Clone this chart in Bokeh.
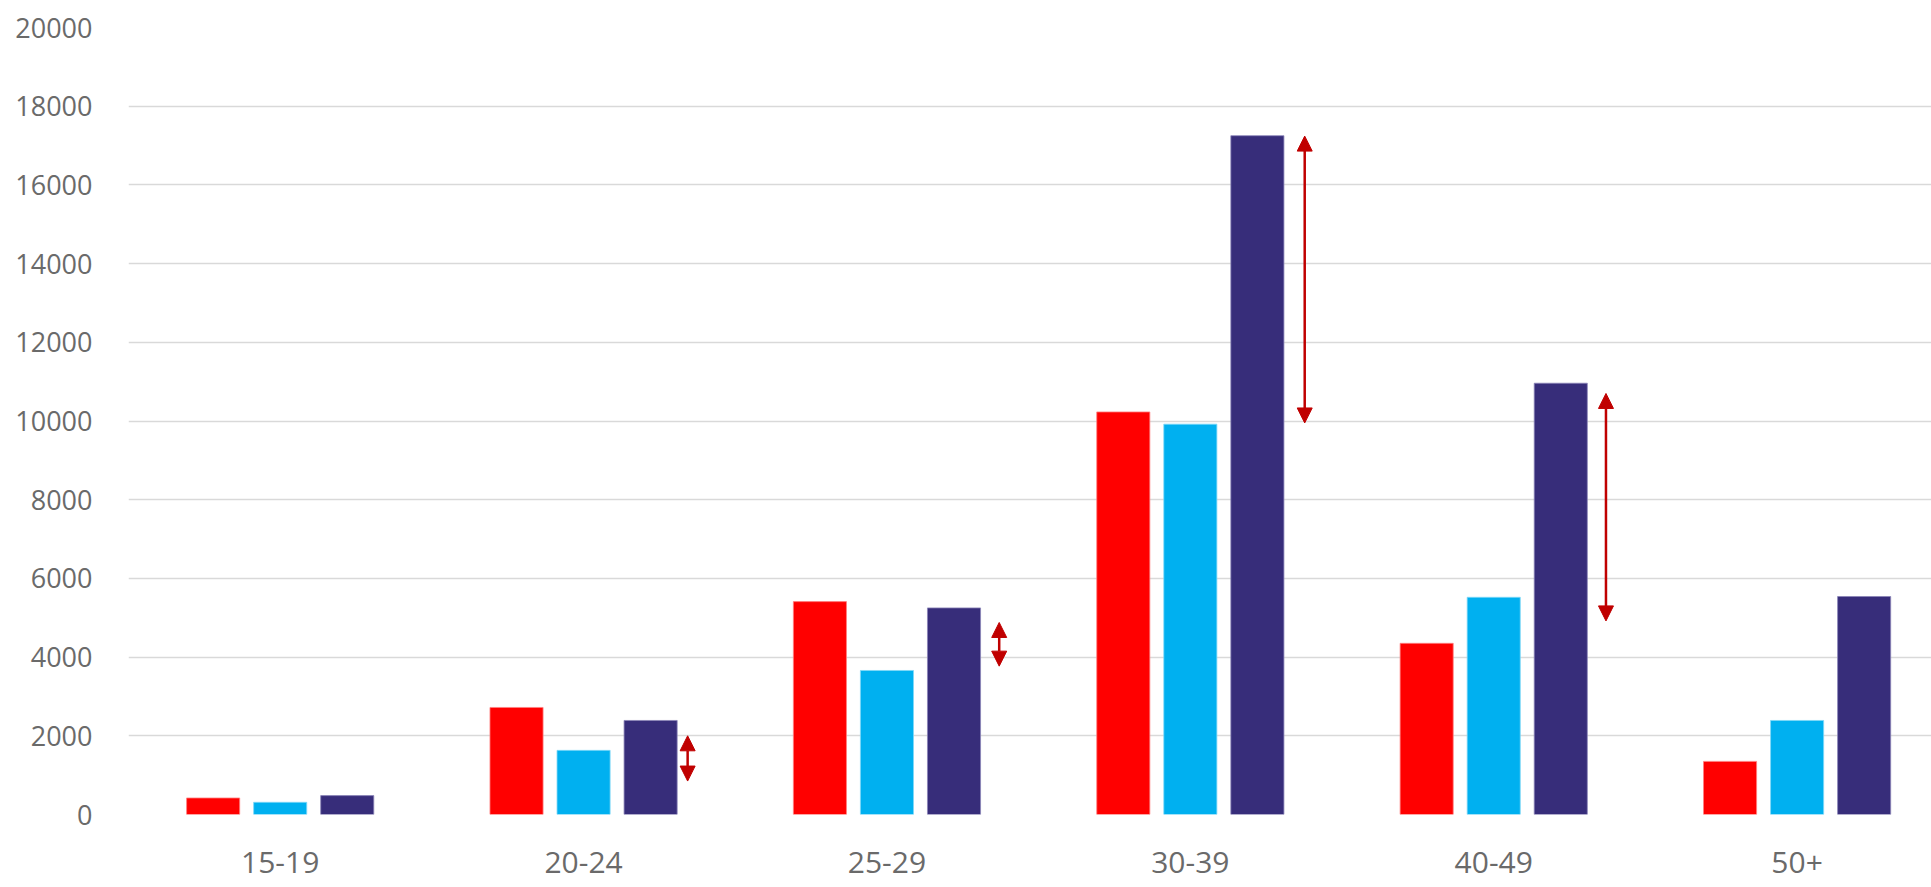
from bokeh.plotting import figure
from bokeh.models import Range1d, FixedTicker, Arrow, NormalHead, ColumnDataSource
from bokeh.embed import file_html
from bokeh.resources import INLINE

# ---- data ----
categories = ["15-19", "20-24", "25-29", "30-39", "40-49", "50+"]
series_red = [420, 2720, 5410, 10230, 4350, 1350]
series_blue = [310, 1630, 3660, 9920, 5520, 2390]
series_navy = [480, 2390, 5250, 17250, 10960, 5540]
y_ticks = [0, 2000, 4000, 6000, 8000, 10000, 12000, 14000, 16000, 18000, 20000]

# arrows (category index, low value, high value)
arrow_cat = [1, 2, 3, 4]
arrow_low = [850, 3770, 9950, 4920]
arrow_high = [2000, 4880, 17240, 10700]

# ---- style ----
RED = "#FF0000"
BLUE = "#00B0F0"
NAVY = "#372D7A"
ARROW_RED = "#C00000"
BAR_W = 0.175
OFFSET = 0.221
ARROW_DX = [0.343, 0.37, 0.377, 0.37]
FONT = "Open Sans"
TXT = "#6a6a6a"

W, H = 1931, 887
p = figure(width=W, height=H, output_backend="svg", toolbar_location=None,
           x_range=Range1d(0, 5.943), y_range=Range1d(0, 20000),
           min_border_left=128, min_border_right=0, min_border_top=27,
           min_border_bottom=73)
p.outline_line_color = None
p.background_fill_color = "white"
p.border_fill_color = "white"

xc = [i + 0.5 for i in range(len(categories))]
src = ColumnDataSource(dict(
    xr=[x - OFFSET for x in xc], xb=xc, xn=[x + OFFSET for x in xc],
    red=series_red, blue=series_blue, navy=series_navy))

p.vbar(x="xr", top="red", width=BAR_W, source=src, fill_color=RED, line_color="#ff8080", line_width=0.8)
p.vbar(x="xb", top="blue", width=BAR_W, source=src, fill_color=BLUE, line_color="#7fd8f8", line_width=0.8)
p.vbar(x="xn", top="navy", width=BAR_W, source=src, fill_color=NAVY, line_color="#8a84b8", line_width=0.8)

for k, (c, lo, hi) in enumerate(zip(arrow_cat, arrow_low, arrow_high)):
    ax = c + 0.5 + ARROW_DX[k]
    p.add_layout(Arrow(x_start=ax, y_start=lo, x_end=ax, y_end=hi,
                       line_color=ARROW_RED, line_width=2.5,
                       start=NormalHead(size=15, fill_color=ARROW_RED, line_color=ARROW_RED),
                       end=NormalHead(size=15, fill_color=ARROW_RED, line_color=ARROW_RED)))

# axes
p.xaxis.ticker = FixedTicker(ticks=xc)
p.xaxis.major_label_overrides = {x: c for x, c in zip(xc, categories)}
p.xaxis.axis_line_color = None
p.xaxis.major_tick_line_color = None
p.xaxis.minor_tick_line_color = None
p.xaxis.major_label_text_font = FONT
p.xaxis.major_label_text_font_size = "30px"
p.xaxis.major_label_text_color = TXT
p.xaxis.major_label_standoff = 31

p.yaxis.ticker = FixedTicker(ticks=y_ticks)
p.yaxis.axis_line_color = None
p.yaxis.major_tick_line_color = None
p.yaxis.minor_tick_line_color = None
p.yaxis.major_label_text_font = FONT
p.yaxis.major_label_text_font_size = "27px"
p.yaxis.major_label_text_color = TXT
p.yaxis.major_label_standoff = 30

p.xgrid.grid_line_color = None
p.ygrid.grid_line_color = "#d9d9d9"
p.ygrid.grid_line_width = 1.6

open("out.html", "w").write(file_html(p, INLINE))
